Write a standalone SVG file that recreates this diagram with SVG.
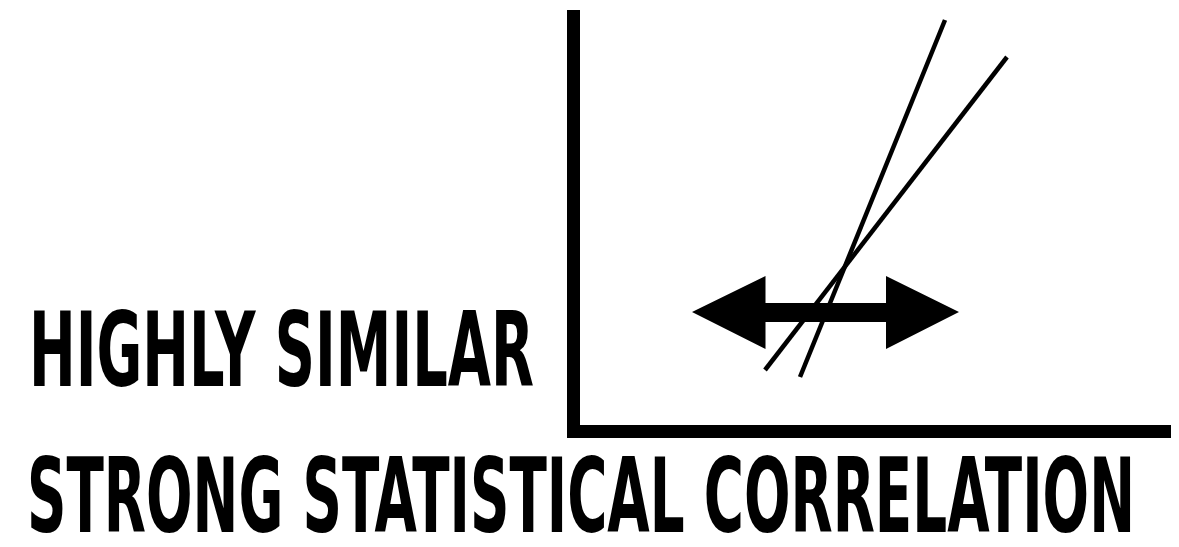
<svg xmlns="http://www.w3.org/2000/svg" width="1179" height="547" viewBox="0 0 1179 547">
<style>
.lbl{font-family:"DejaVu Sans","Liberation Sans",sans-serif;font-weight:bold;font-stretch:condensed;font-size:103px;fill:#000}
.ln{stroke:#000;stroke-width:4.5;fill:none}
.axis{fill:#000}
</style>
<rect width="1179" height="547" fill="#fff"/>
<g id="axes">
<rect class="axis" x="567" y="10" width="13" height="428"/>
<rect class="axis" x="567" y="425" width="604" height="13"/>
</g>
<g id="connectors">
<line class="ln" x1="945" y1="20" x2="800" y2="377"/>
<line class="ln" x1="1007" y1="57" x2="765" y2="370"/>
</g>
<g id="arrow">
<path fill="#000" d="M692,312 L765.5,276 L765.5,303 L886,303 L886,276 L959,312 L886,349 L886,322 L765.5,322 L765.5,349 Z"/>
</g>
<g id="label-similar">
<text class="lbl" x="29" y="386" textLength="505" lengthAdjust="spacingAndGlyphs">HIGHLY SIMILAR</text>
</g>
<g id="label-correlation">
<text class="lbl" x="27" y="532" textLength="1108" lengthAdjust="spacingAndGlyphs">STRONG STATISTICAL CORRELATION</text>
</g>
</svg>
